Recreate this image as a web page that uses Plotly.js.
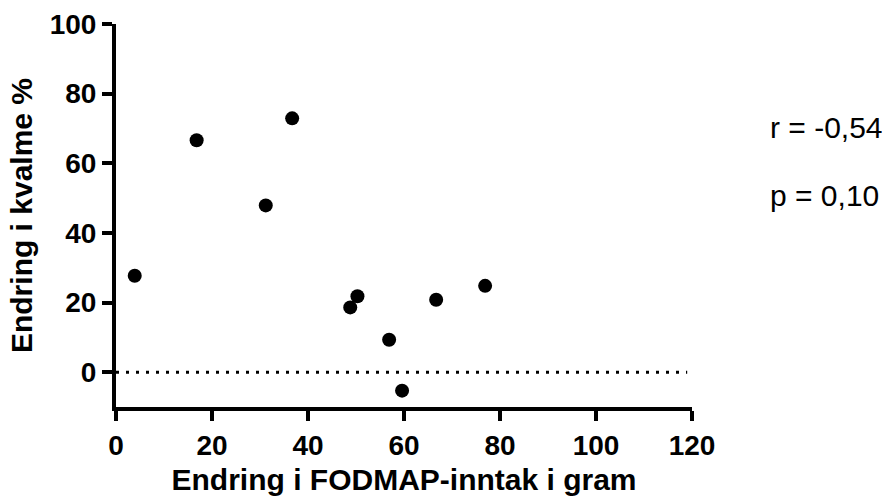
<!DOCTYPE html>
<html>
<head>
<meta charset="utf-8">
<script src="https://cdn.plot.ly/plotly-3.0.1.min.js"></script>
<style>html,body{margin:0;padding:0;background:#fff;}#chart{width:882px;height:498px;}</style>
</head>
<body>
<div id="chart"></div>
<script>
const fodmapChange = [3.9, 16.8, 31.2, 36.7, 48.8, 50.3, 56.9, 59.6, 66.7, 76.9];
const nauseaChange = [27.7, 66.6, 47.9, 72.9, 18.6, 21.8, 9.3, -5.3, 20.8, 24.8];
const xTicks = [0, 20, 40, 60, 80, 100, 120];
const yTicks = [0, 20, 40, 60, 80, 100];
const statsText = ["r = -0,54", "p = 0,10"];
const xTitle = "Endring i FODMAP-inntak i gram";
const yTitle = "Endring i kvalme %";

const fontFam = "Arial, 'Liberation Sans', Helvetica, sans-serif";

const trace = {
  x: fodmapChange, y: nauseaChange, type: 'scatter', mode: 'markers',
  marker: {color: '#000', size: 14}, hoverinfo: 'skip'
};

const layout = {
  width: 882, height: 498,
  margin: {l: 116, r: 190, t: 24, b: 91},
  paper_bgcolor: '#fff', plot_bgcolor: '#fff',
  showlegend: false,
  font: {family: fontFam, color: '#000'},
  xaxis: {
    range: [0, 120], tickvals: xTicks, ticktext: xTicks.map(String),
    showline: true, linewidth: 4, linecolor: '#000', mirror: false,
    showgrid: false, zeroline: false,
    ticks: 'outside', ticklen: 10, tickwidth: 4, tickcolor: '#000',
    tickfont: {size: 28, family: fontFam, weight: 'bold'},
    title: {text: '<b>' + xTitle + '</b>', font: {size: 30, family: fontFam}, standoff: 10}
  },
  yaxis: {
    range: [-10, 100], tickvals: yTicks, ticktext: yTicks.map(String),
    showline: true, linewidth: 4, linecolor: '#000',
    showgrid: false, zeroline: false,
    ticks: 'outside', ticklen: 10, tickwidth: 4, tickcolor: '#000',
    tickfont: {size: 28, family: fontFam, weight: 'bold'},
    title: {text: '<b>' + yTitle + '</b>', font: {size: 30, family: fontFam}, standoff: 9}
  },
  shapes: [{
    type: 'line', xref: 'x', yref: 'y', x0: 0, x1: 119, y0: 0, y1: 0,
    line: {color: '#000', width: 3, dash: '3px,7px'}
  }],
  annotations: [
    {text: statsText[0], xref: 'paper', yref: 'paper', x: 1.132, y: 0.731, xanchor: 'left', yanchor: 'middle', showarrow: false, font: {size: 30, family: fontFam, color: '#000'}},
    {text: statsText[1], xref: 'paper', yref: 'paper', x: 1.132, y: 0.553, xanchor: 'left', yanchor: 'middle', showarrow: false, font: {size: 30, family: fontFam, color: '#000'}}
  ]
};

Plotly.newPlot('chart', [trace], layout, {displayModeBar: false, staticPlot: true});
</script>
</body>
</html>
